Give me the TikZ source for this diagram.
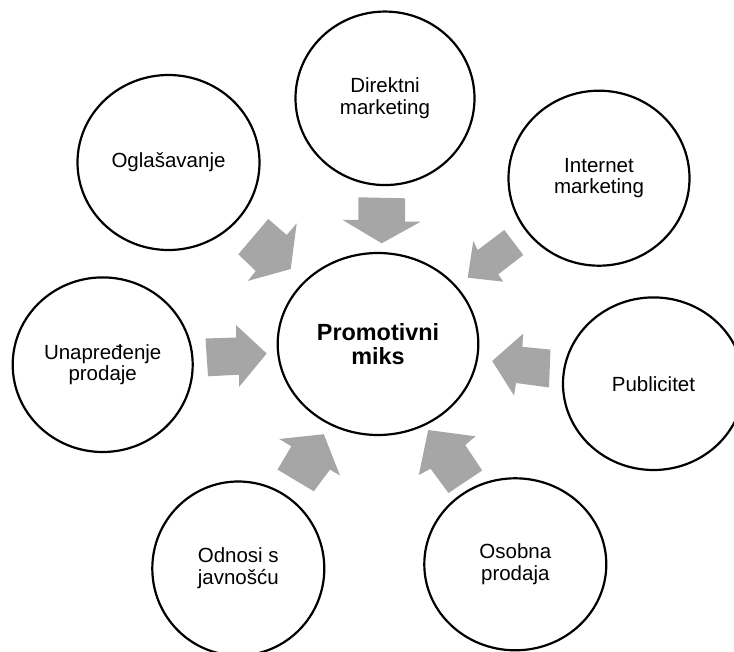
\documentclass[tikz,border=0pt]{standalone}
\usepackage{fontspec}
\setmainfont{Liberation Sans}
\usetikzlibrary{shapes.geometric}
\definecolor{arrowgray}{HTML}{A6A6A6}
\begin{document}
\begin{tikzpicture}[x=1pt,y=-1pt,
  bub/.style={draw, line width=2.2pt, ellipse, inner sep=0pt, align=center,
    font=\fontsize{20.5}{21.7}\selectfont},
  blk/.style={fill=arrowgray}]
\clip (0,0) rectangle (734,652);
% block arrows
\fill[blk] (358.3,197.3) -- (405,198.3) -- (405,221.7) -- (420.7,221.7) -- (381.7,243.3) -- (342.7,220) -- (358.3,220) -- cycle;
\fill[blk] (268.3,219) -- (286.7,235) -- (296.7,223.3) -- (290.7,269) -- (247.7,281) -- (255.7,271) -- (238.3,254.3) -- cycle;
\fill[blk] (504.3,230) -- (523.3,255) -- (498.3,274.3) -- (503.3,281.7) -- (467.7,277.7) -- (473.3,241) -- (477.7,250) -- cycle;
\fill[blk] (205.5,338.5) -- (236,337.5) -- (236,325) -- (266.7,353.5) -- (239,387) -- (239,374.7) -- (208,376.3) -- cycle;
\fill[blk] (550.5,349.6) -- (549,387.5) -- (516,383) -- (514,395.5) -- (492.2,361) -- (523.2,333.6) -- (522.4,346.8) -- cycle;
\fill[blk] (279.2,439) -- (323.8,434.2) -- (340,475.5) -- (330,469.6) -- (313.8,491.3) -- (277.5,469.6) -- (291.3,446.3) -- cycle;
\fill[blk] (428.2,430) -- (475.5,436.3) -- (465.2,445) -- (482.2,470.5) -- (448.5,493) -- (430.6,468.8) -- (418.8,475) -- cycle;
% circles
\node[bub, minimum width=200.6pt, minimum height=182pt,
  font=\bfseries\fontsize{23.4}{24}\selectfont] (pm) at (378,344) {Promotivni\\miks};
\node[bub, minimum width=182pt, minimum height=175pt] (og) at (168.5,162.5) {Oglašavanje};
\node[bub, minimum width=179pt, minimum height=173.5pt] (dm) at (385,98.3) {Direktni\\marketing};
\node[bub, minimum width=181pt, minimum height=175pt] (im) at (599,178.2) {Internet\\marketing};
\node[bub, minimum width=180pt, minimum height=174.6pt] (up) at (102.7,364.7) {Unapređenje\\prodaje};
\node[bub, minimum width=181pt, minimum height=172.6pt] (pu) at (653.5,383.7) {Publicitet};
\node[bub, minimum width=172pt, minimum height=174pt] (oj) at (238.3,568.5) {Odnosi s\\javnošću};
\node[bub, minimum width=182pt, minimum height=172pt] (op) at (515.3,564.3) {Osobna\\prodaja};
\end{tikzpicture}
\end{document}
